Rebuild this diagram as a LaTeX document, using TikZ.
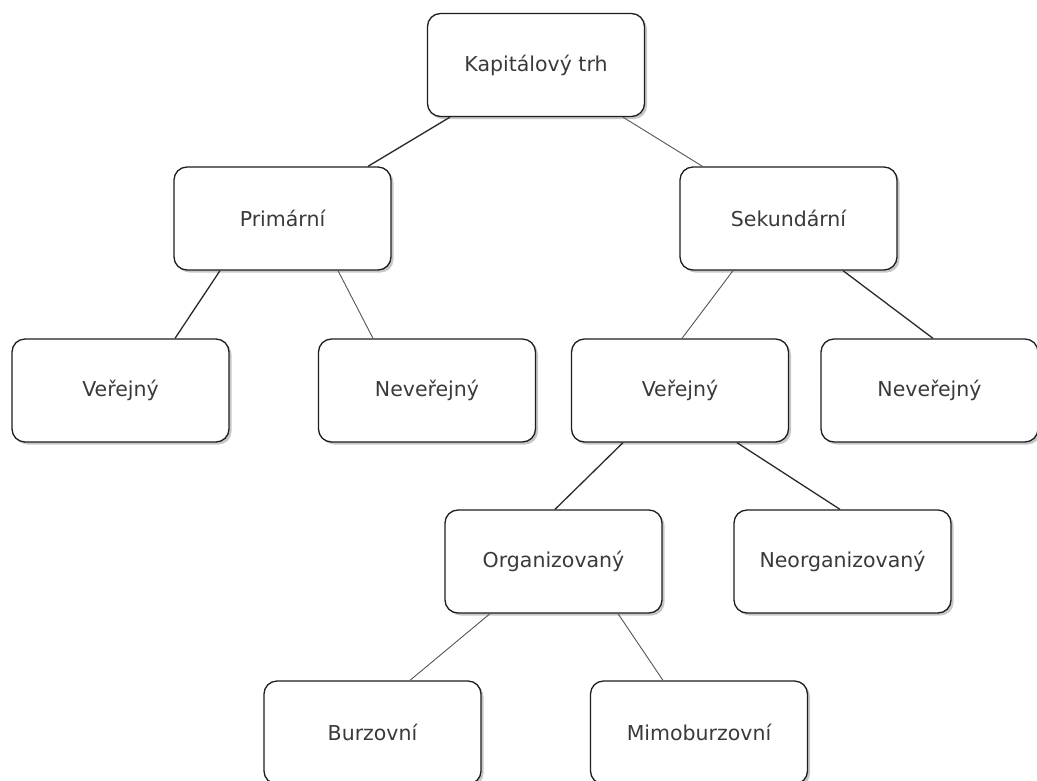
\documentclass[tikz,border=0pt]{standalone}
\usepackage{fontspec}
\setmainfont{DejaVu Sans}
\usetikzlibrary{shadows}
\definecolor{txtc}{HTML}{3A3A3A}
\definecolor{edgec}{HTML}{1E1E1E}
\definecolor{linedark}{HTML}{2A2A2A}
\definecolor{linelight}{HTML}{555555}
\tikzset{
  box/.style={draw=edgec, line width=1.3pt, rounded corners=13pt, fill=white,
    minimum width=217pt, minimum height=103pt, inner sep=0pt,
    text=txtc, font=\fontsize{20.5}{24}\selectfont,
    drop shadow={shadow xshift=2.5pt, shadow yshift=-2.5pt, fill=black, opacity=0.22}},
  darkline/.style={draw=linedark, line width=1.3pt},
  lightline/.style={draw=linelight, line width=0.9pt}
}
\begin{document}
\begin{tikzpicture}[x=1pt, y=-1pt]
\useasboundingbox (0,0) rectangle (1037,780);
\fill[white] (0,0) rectangle (1037,780);
\node[box] (k)  at (536,65)      {Kapitálový trh};
\node[box] (p)  at (282.5,218.5) {Primární};
\node[box] (s)  at (788.5,218.5) {Sekundární};
\node[box] (v1) at (120.5,390.5) {Veřejný};
\node[box] (n1) at (427,390.5)   {Neveřejný};
\node[box] (v2) at (680,390.5)   {Veřejný};
\node[box] (n2) at (929.5,390.5) {Neveřejný};
\node[box] (o)  at (553.5,561.5) {Organizovaný};
\node[box] (no) at (842.5,561.5) {Neorganizovaný};
\node[box] (b)  at (372.5,732.5) {Burzovní};
\node[box] (m)  at (699,732.5)   {Mimoburzovní};
\draw[darkline]  ([xshift=-86pt]k.south)  -- ([xshift=85.5pt]p.north);
\draw[lightline] ([xshift=87pt]k.south)   -- ([xshift=-86pt]s.north);
\draw[darkline]  ([xshift=-62.5pt]p.south) -- ([xshift=54.5pt]v1.north);
\draw[lightline] ([xshift=55.5pt]p.south) -- ([xshift=-54pt]n1.north);
\draw[lightline] ([xshift=-55.5pt]s.south) -- ([xshift=2pt]v2.north);
\draw[darkline]  ([xshift=54.5pt]s.south) -- ([xshift=3.5pt]n2.north);
\draw[darkline]  ([xshift=-57pt]v2.south) -- ([xshift=1.5pt]o.north);
\draw[darkline]  ([xshift=57pt]v2.south)  -- ([xshift=-2.5pt]no.north);
\draw[lightline] ([xshift=-63.5pt]o.south) -- ([xshift=37.5pt]b.north);
\draw[lightline] ([xshift=64.5pt]o.south) -- ([xshift=-36pt]m.north);
\end{tikzpicture}
\end{document}
